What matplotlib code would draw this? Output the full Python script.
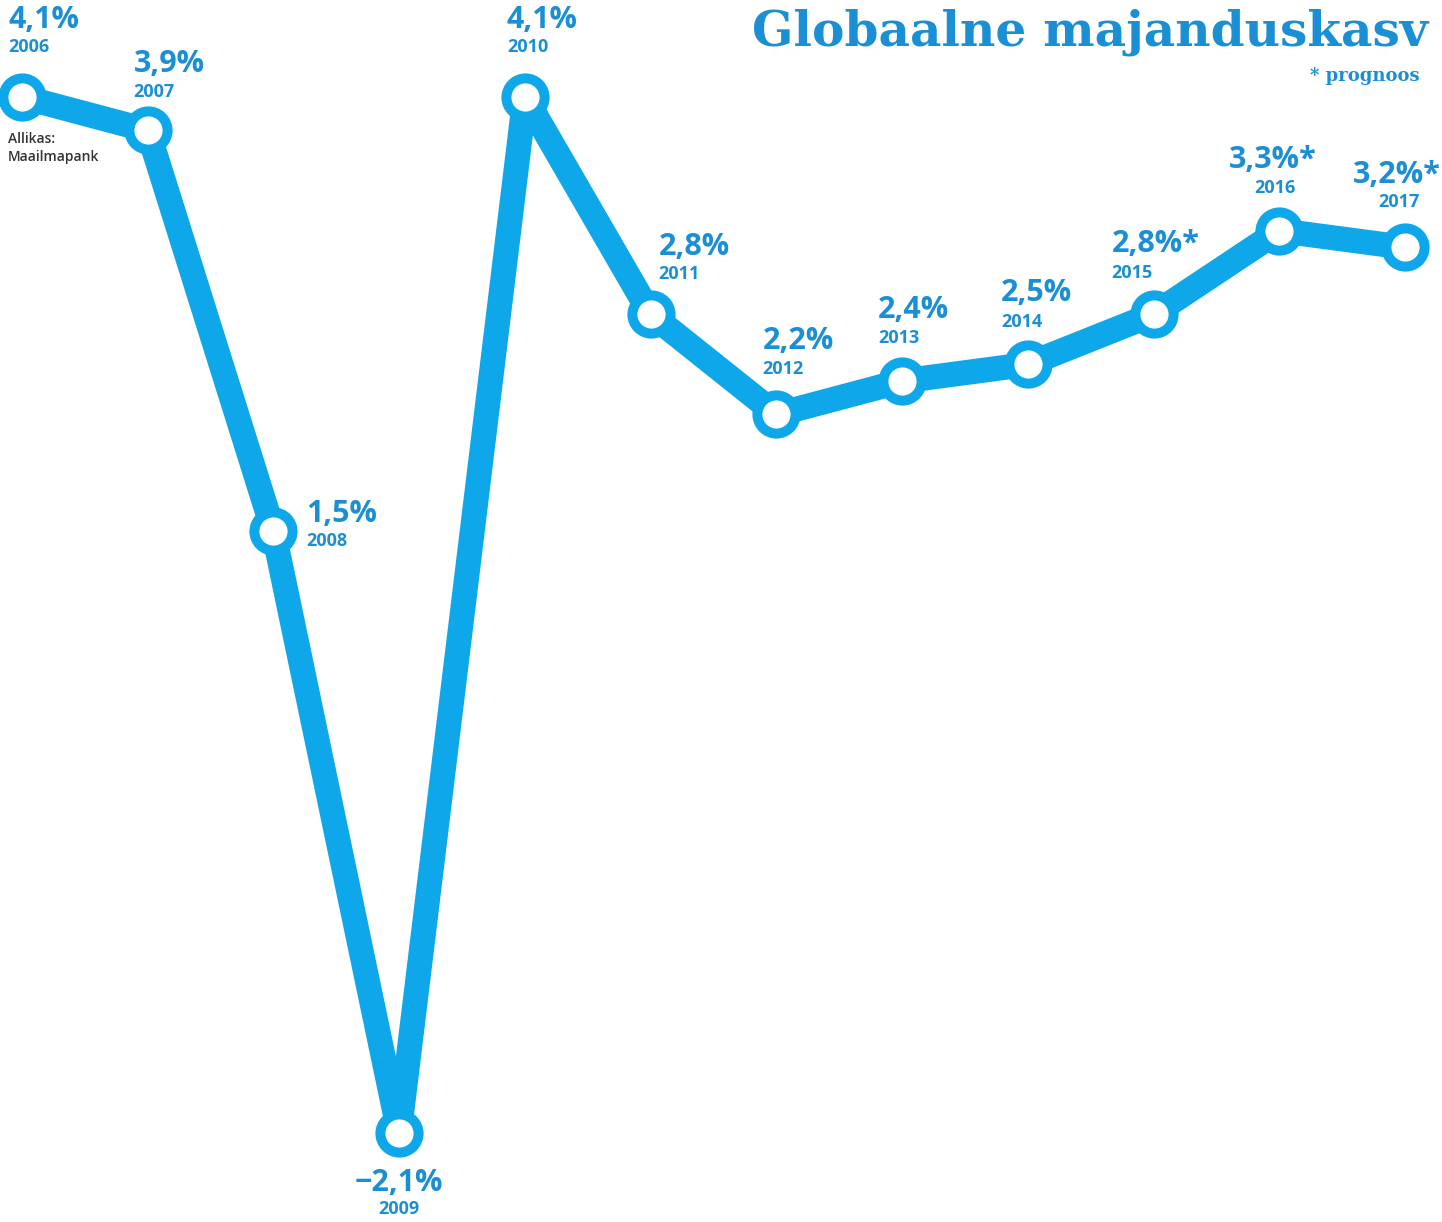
import matplotlib
matplotlib.use("Agg")
import matplotlib.pyplot as plt

years = [2006, 2007, 2008, 2009, 2010, 2011, 2012, 2013, 2014, 2015, 2016, 2017]
growth = [4.1, 3.9, 1.5, -2.1, 4.1, 2.8, 2.2, 2.4, 2.5, 2.8, 3.3, 3.2]
value_labels = ["4,1%", "3,9%", "1,5%", "\u22122,1%", "4,1%", "2,8%", "2,2%", "2,4%",
                "2,5%", "2,8%*", "3,3%*", "3,2%*"]
year_labels = [str(y) for y in years]

LINE = "#0ea8ea"
TEXT = "#1b8fd4"

# label offsets in pixels: (value dx, value dy, year dx, year dy, ha)
offsets = {
    2006: (-14, 77, -14, 50, "left"),
    2007: (-14, 66, -14, 38, "left"),
    2008: (33, 17, 33, -10, "left"),
    2009: (0, -50, 0, -76, "center"),
    2010: (-18, 77, -18, 50, "left"),
    2011: (8, 67, 8, 40, "left"),
    2012: (-14, 73, -14, 45, "left"),
    2013: (-24, 71, -24, 43, "left"),
    2014: (-27, 71, -27, 42, "left"),
    2015: (-42, 70, -42, 41, "left"),
    2016: (-50, 71, -25, 43, "left"),
    2017: (-52, 72, -27, 45, "left"),
}

fig = plt.figure(figsize=(14.42, 12.22), dpi=100)
ax = fig.add_axes([0, 0, 1, 1])
ax.set_xlim(2005.825, 2017.294)
ax.set_ylim(-2.632, 4.680)
ax.axis("off")

ax.plot(years, growth, color=LINE, lw=18, solid_joinstyle="round", solid_capstyle="round",
        marker="o", markersize=27.5, markerfacecolor="white", markeredgecolor=LINE,
        markeredgewidth=7.2, zorder=2)

for y, v, vl, yl in zip(years, growth, value_labels, year_labels):
    vdx, vdy, ydx, ydy, ha = offsets[y]
    ax.annotate(vl, (y, v), xytext=(vdx, vdy), textcoords="offset pixels",
                ha=ha, va="center", fontsize=22, color=TEXT,
                family="Open Sans", fontweight="bold")
    ax.annotate(yl, (y, v), xytext=(ydx, ydy), textcoords="offset pixels",
                ha=ha, va="center", fontsize=13, color=TEXT,
                family="Open Sans", fontweight="bold")

fig.text(1428 / 1442, 1 - 32 / 1222, "Globaalne majanduskasv", ha="right", va="center",
         fontsize=35, color=TEXT, family=["DejaVu Serif Condensed", "DejaVu Serif"],
         fontweight="bold")
fig.text(1420 / 1442, 1 - 76 / 1222, "* prognoos", ha="right", va="center",
         fontsize=13, color=TEXT, family=["DejaVu Serif Condensed", "DejaVu Serif"],
         fontweight="bold")
fig.text(8 / 1442, 1 - 148 / 1222, "Allikas:\nMaailmapank", ha="left", va="center",
         fontsize=10, color="#333333", family="Open Sans", fontweight="semibold",
         linespacing=1.3)

fig.savefig("out.png", dpi=100, facecolor="white")
